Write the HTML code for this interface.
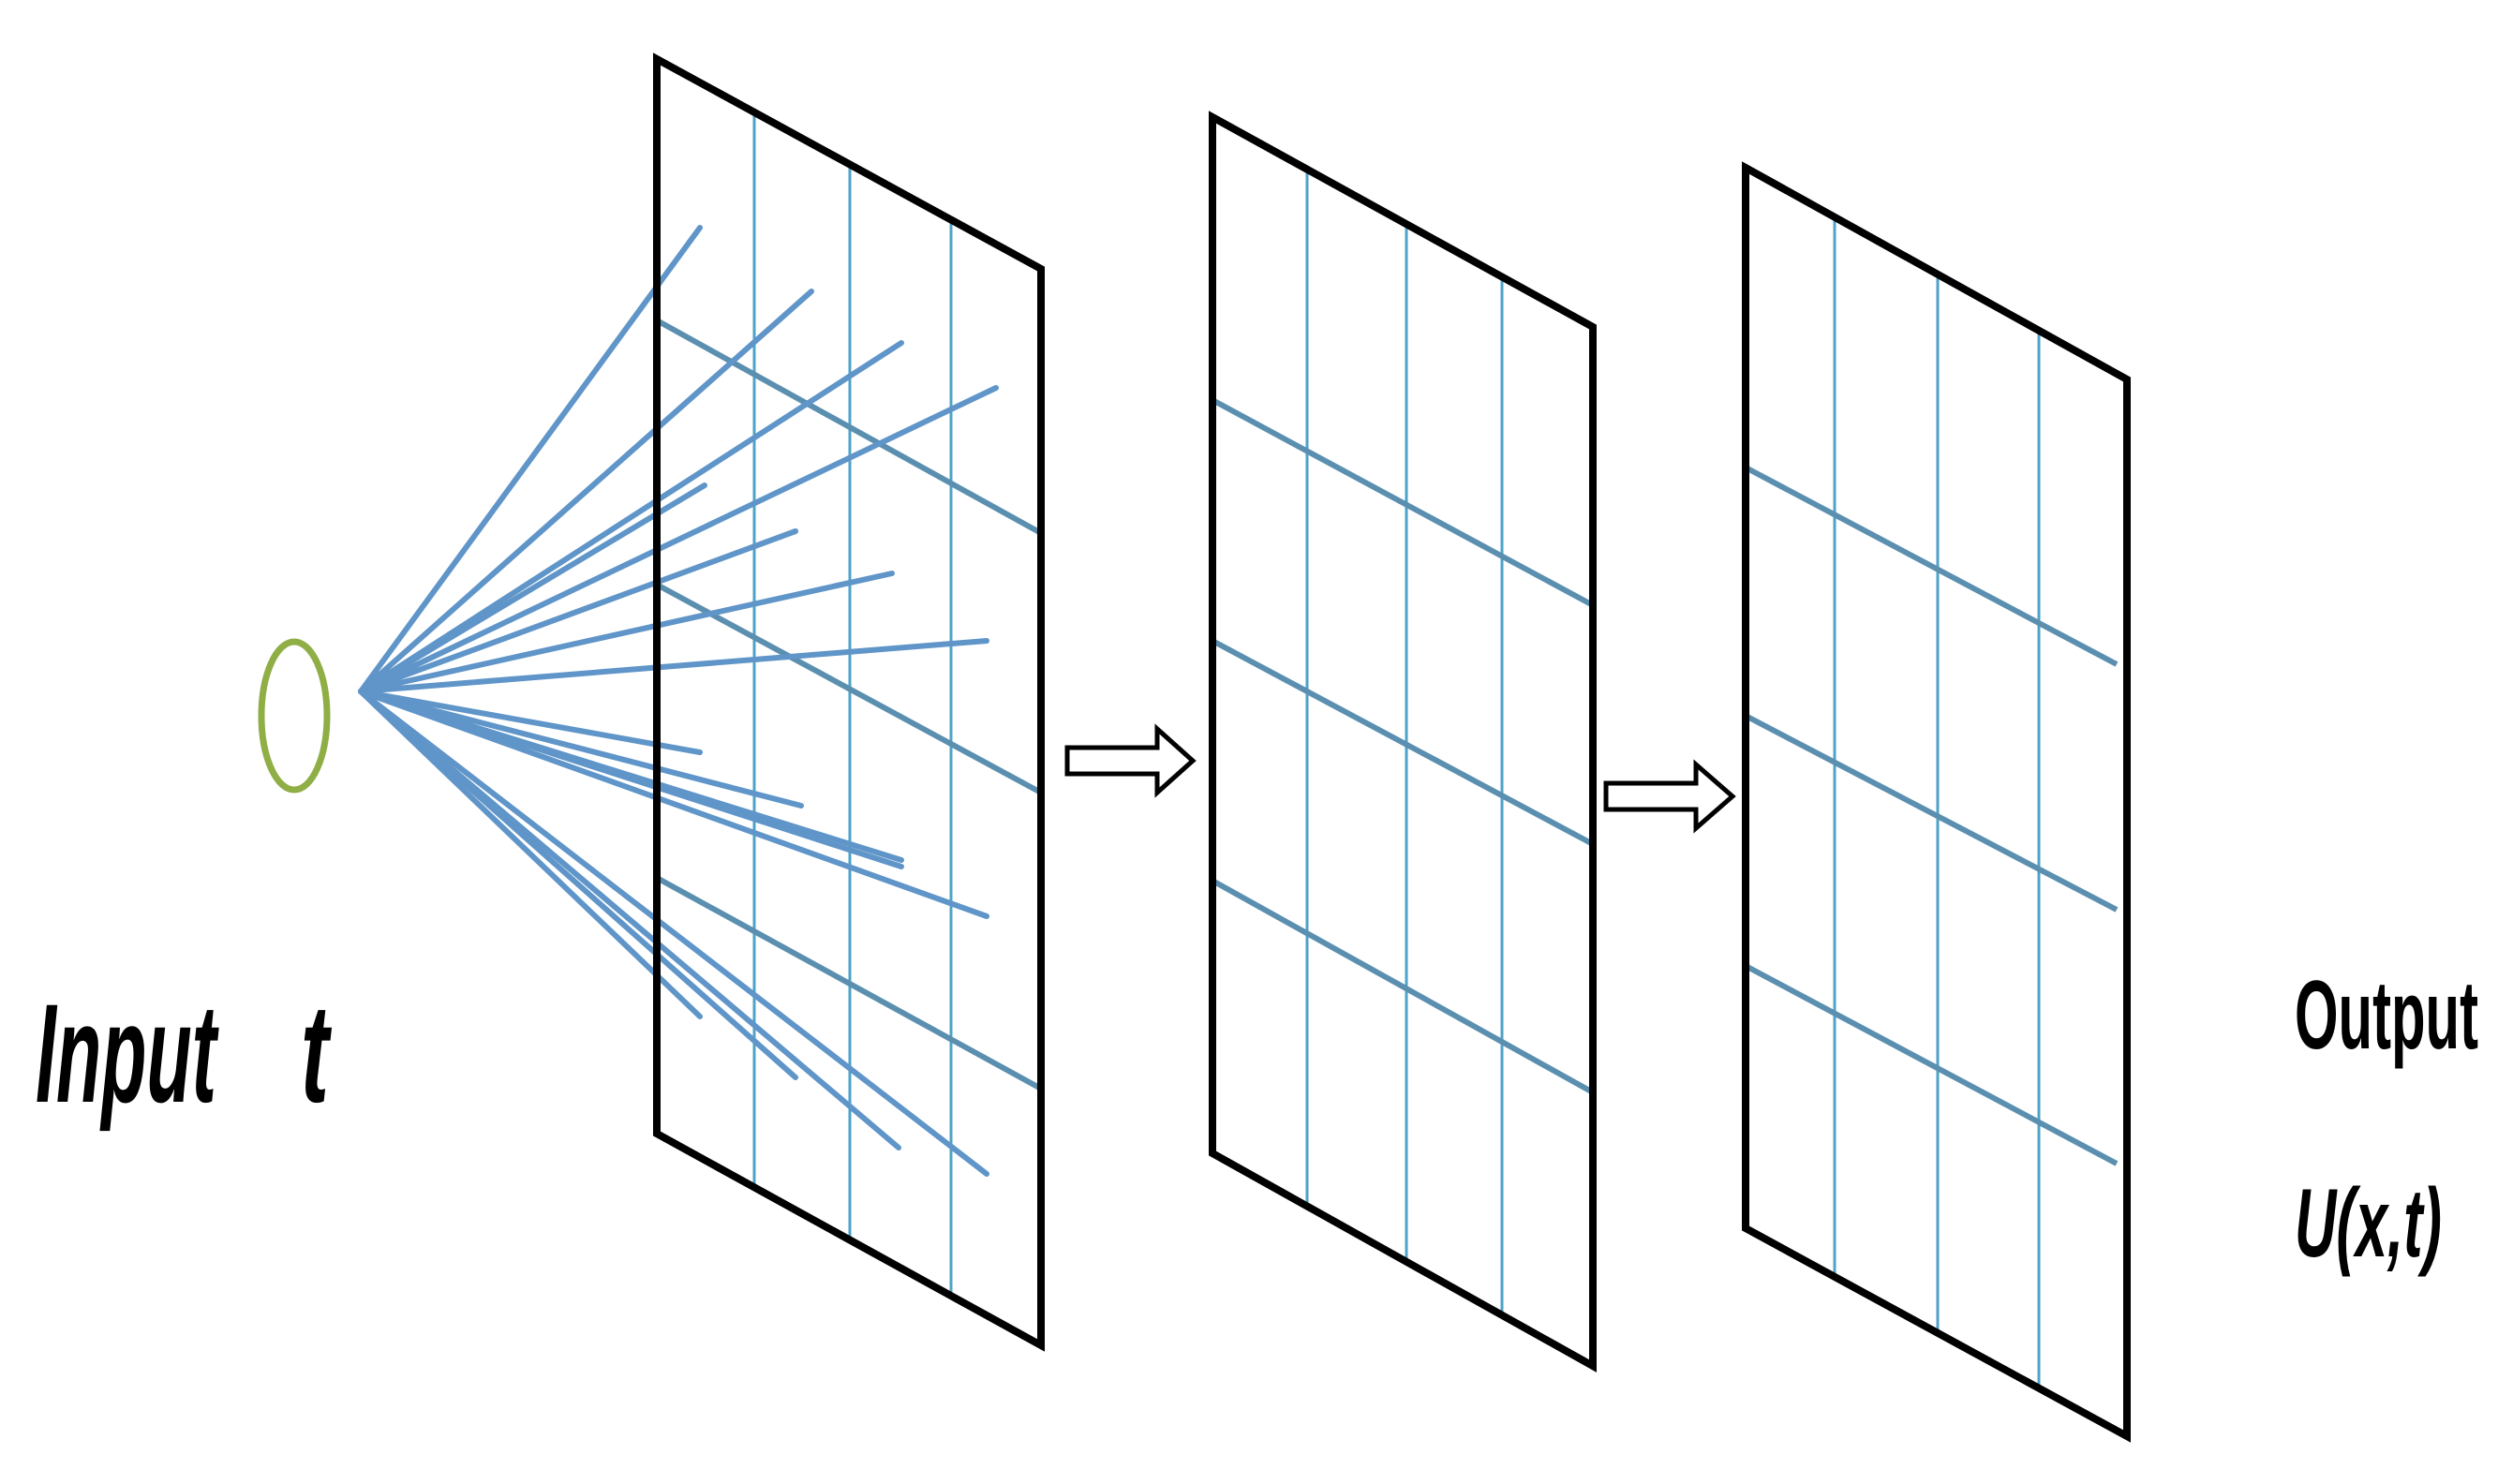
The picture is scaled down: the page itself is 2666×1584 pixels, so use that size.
<!DOCTYPE html>
<html><head><meta charset="utf-8"><style>html,body{margin:0;padding:0;background:#fff}svg{display:block}</style></head>
<body>
<svg width="2666" height="1584" viewBox="0 0 2666 1584" xmlns="http://www.w3.org/2000/svg">
<rect width="2666" height="1584" fill="#fff"/>
<ellipse cx="314" cy="764" rx="35" ry="79" fill="none" stroke="#8fae45" stroke-width="7"/>
<g stroke="#4ea3c8" stroke-width="3">
<line x1="805" y1="120" x2="805" y2="1267"/>
<line x1="907" y1="176" x2="907" y2="1324"/>
<line x1="1015" y1="235" x2="1015" y2="1383"/>
</g>
<g stroke="#5b8fb0" stroke-width="6">
<line x1="701" y1="342" x2="1111" y2="569"/>
<line x1="701" y1="624" x2="1111" y2="846"/>
<line x1="701" y1="937" x2="1111" y2="1162"/>
</g>
<g stroke="#5f95c8" stroke-width="6" stroke-linecap="round">
<line x1="385" y1="738" x2="747" y2="243"/>
<line x1="385" y1="738" x2="866" y2="311"/>
<line x1="385" y1="738" x2="962" y2="366"/>
<line x1="385" y1="738" x2="1063" y2="414"/>
<line x1="385" y1="738" x2="752" y2="518"/>
<line x1="385" y1="738" x2="849" y2="567"/>
<line x1="385" y1="738" x2="952" y2="612"/>
<line x1="385" y1="738" x2="1053" y2="684"/>
<line x1="385" y1="738" x2="747" y2="803"/>
<line x1="385" y1="738" x2="855" y2="860"/>
<line x1="385" y1="738" x2="962" y2="918"/>
<line x1="385" y1="738" x2="962" y2="925"/>
<line x1="385" y1="738" x2="1053" y2="978"/>
<line x1="385" y1="738" x2="747" y2="1085"/>
<line x1="385" y1="738" x2="849" y2="1150"/>
<line x1="385" y1="738" x2="959" y2="1225"/>
<line x1="385" y1="738" x2="1053" y2="1253"/>
</g>
<polygon points="701,63 1111,287 1111,1436 701,1210" fill="none" stroke="#000" stroke-width="8"/>
<g stroke="#4ea3c8" stroke-width="3">
<line x1="1395" y1="181" x2="1395" y2="1287"/>
<line x1="1501" y1="239" x2="1501" y2="1347"/>
<line x1="1603" y1="295" x2="1603" y2="1404"/>
</g>
<g stroke="#5b8fb0" stroke-width="6">
<line x1="1294" y1="427" x2="1700" y2="646"/>
<line x1="1294" y1="684" x2="1700" y2="901"/>
<line x1="1294" y1="940" x2="1700" y2="1166"/>
</g>
<polygon points="1294,125 1700,349 1700,1458 1294,1231" fill="none" stroke="#000" stroke-width="8"/>
<g stroke="#4ea3c8" stroke-width="3">
<line x1="1958" y1="232" x2="1958" y2="1363"/>
<line x1="2068" y1="293" x2="2068" y2="1423"/>
<line x1="2176" y1="353" x2="2176" y2="1482"/>
</g>
<g stroke="#5b8fb0" stroke-width="6">
<line x1="1863" y1="499" x2="2259" y2="709"/>
<line x1="1863" y1="764" x2="2259" y2="971"/>
<line x1="1863" y1="1031" x2="2259" y2="1242"/>
</g>
<polygon points="1863,179 2270,405 2270,1533 1863,1311" fill="none" stroke="#000" stroke-width="8"/>
<polygon points="1139,798 1235,798 1235,778 1273,812 1235,846 1235,826 1139,826" fill="#fff" stroke="#000" stroke-width="5"/>
<polygon points="1714,836 1810,836 1810,816 1849,850 1810,884 1810,864 1714,864" fill="#fff" stroke="#000" stroke-width="5"/>
<g font-family="Liberation Sans, sans-serif" font-weight="bold" fill="#000">
<text x="38" y="1176" font-size="150" font-style="italic" textLength="193" lengthAdjust="spacingAndGlyphs">Input</text>
<text x="321" y="1176" font-size="150" font-style="italic" textLength="30" lengthAdjust="spacingAndGlyphs">t</text>
<text x="2449" y="1119" font-size="104" textLength="196" lengthAdjust="spacingAndGlyphs">Output</text>
<text x="2449" y="1341" font-size="104" font-style="italic" textLength="157" lengthAdjust="spacingAndGlyphs">U(x,t)</text>
</g>
</svg>
</body></html>
